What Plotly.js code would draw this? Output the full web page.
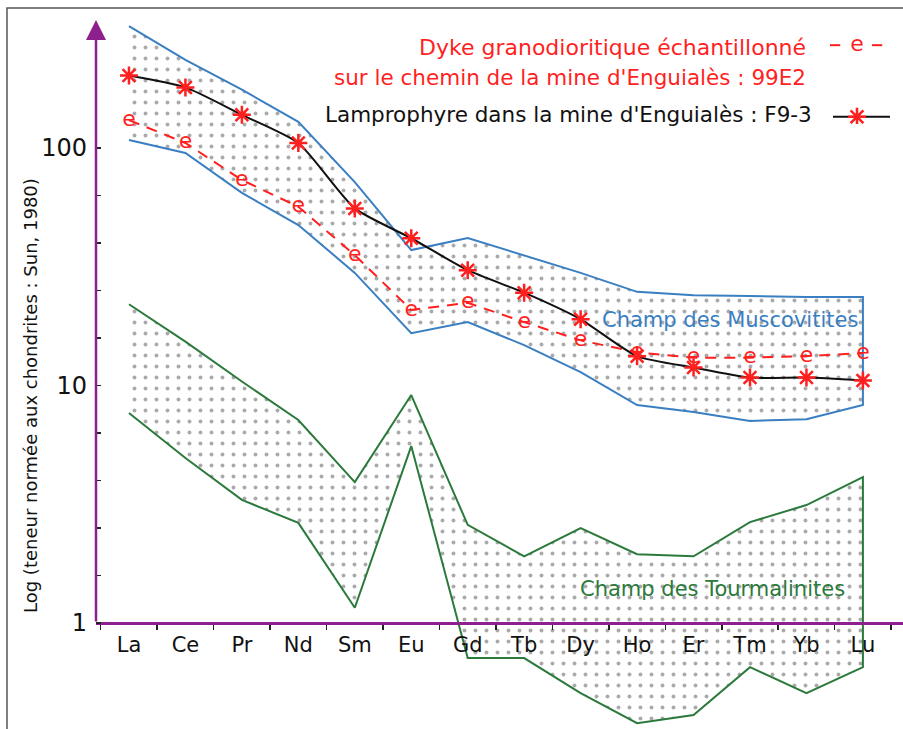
<!DOCTYPE html>
<html>
<head>
<meta charset="utf-8">
<script src="https://cdn.plot.ly/plotly-3.0.1.min.js"></script>
<style>html,body{margin:0;padding:0;background:#fff;}#chart{width:903px;height:729px;}</style>
</head>
<body>
<div id="chart"></div>
<script>
// Rare earth elements (x categories)
const elements = ['La','Ce','Pr','Nd','Sm','Eu','Gd','Tb','Dy','Ho','Er','Tm','Yb','Lu'];
// Samples (chondrite-normalised, Sun 1980)
const dyke99E2  = [131, 105, 73.3, 56.6, 35.4, 20.8, 22.3, 18.5, 15.5, 13.8, 13.1, 13.1, 13.3, 13.7];
const lamproF93 = [202, 180, 138, 105, 55.7, 41.7, 30.6, 24.6, 19.0, 13.3, 11.9, 10.8, 10.8, 10.5];
// Fields (upper and lower envelopes)
const muscoUpper = [326, 235, 176, 129, 71.9, 37.2, 41.8, 35.4, 29.8, 24.8, 24.0, 23.8, 23.6, 23.6];
const muscoLower = [108, 95.3, 64.7, 47.4, 29.8, 16.6, 18.5, 14.8, 11.4, 8.28, 7.73, 7.09, 7.22, 8.28];
const tourmUpper = [22.0, 15.3, 10.4, 7.16, 3.92, 9.12, 2.59, 1.91, 2.51, 1.95, 1.91, 2.66, 3.14, 4.12];
const tourmLower = [7.66, 4.95, 3.30, 2.64, 1.16, 5.56, 0.712, 0.712, 0.507, 0.379, 0.410, 0.652, 0.507, 0.652];
// Texts
const legendDyke1 = 'Dyke granodioritique échantillonné';
const legendDyke2 = "sur le chemin de la mine d'Enguialès : 99E2";
const legendLampro = "Lamprophyre dans la mine d'Enguialès : F9-3";
const yTitle = 'Log (teneur normée aux chondrites : Sun, 1980)';
const fieldMusco = 'Champ des Muscovitites';
const fieldTourm = 'Champ des Tourmalinites';
const yTickVals = [1,1.585,2.512,3.981,6.310,10,15.85,25.12,39.81,63.10,100];
const yTickText = ['1','','','','','10','','','','','100'];

const FONT = 'DejaVu Sans, sans-serif';
const PURPLE = '#8e1f8e';
const RED = '#ff1f1f';
const BLUE = '#3a7fc1';
const GREEN = '#2b7a3b';

const xRange = [-0.584, 13.71];
const yRange = [-0.446, 2.539];

function polygon(upper, lower) {
  return {
    x: elements.concat(elements.slice().reverse()),
    y: upper.concat(lower.slice().reverse())
  };
}
const pm = polygon(muscoUpper, muscoLower);
const pt = polygon(tourmUpper, tourmLower);
const pattern = {shape: '.', fgcolor: '#555', bgcolor: 'rgba(255,255,255,0)', size: 11, solidity: 0.1, fillmode: 'overlay'};
const starMarker = {symbol: 'asterisk-open', size: 15, color: RED, line: {color: RED, width: 2.5}};

const traces = [
  {x: pm.x, y: pm.y, type: 'scatter', mode: 'lines', fill: 'toself', fillcolor: 'rgba(255,255,255,0)',
   fillpattern: pattern, line: {color: BLUE, width: 2}, hoverinfo: 'skip', showlegend: false},
  {x: pt.x, y: pt.y, type: 'scatter', mode: 'lines', fill: 'toself', fillcolor: 'rgba(255,255,255,0)',
   fillpattern: pattern, line: {color: GREEN, width: 2}, hoverinfo: 'skip', showlegend: false},
  {x: elements, y: dyke99E2, type: 'scatter', mode: 'lines+text', text: elements.map(() => 'e'),
   textposition: 'middle center', textfont: {family: FONT, size: 22, color: RED},
   line: {color: RED, width: 2, dash: '11px,8px'}, showlegend: false, name: '99E2'},
  {x: elements, y: lamproF93, type: 'scatter', mode: 'lines+markers',
   line: {color: '#111', width: 2, shape: 'spline', smoothing: 0.6},
   marker: starMarker, showlegend: false, name: 'F9-3'},
  // legend samples (inset axes)
  {x: [0, 0.17, null, 0.7, 0.87], y: [1, 1, null, 1, 1], xaxis: 'x3', yaxis: 'y3', type: 'scatter', mode: 'lines',
   line: {color: RED, width: 2}, showlegend: false, hoverinfo: 'skip'},
  {x: [0.45], y: [1], xaxis: 'x3', yaxis: 'y3', type: 'scatter', mode: 'text', text: ['e'],
   textfont: {family: FONT, size: 22, color: RED}, showlegend: false, hoverinfo: 'skip'},
  {x: [0.05, 1.0], y: [0, 0], xaxis: 'x3', yaxis: 'y3', type: 'scatter', mode: 'lines',
   line: {color: '#111', width: 2}, showlegend: false, hoverinfo: 'skip'},
  {x: [0.45], y: [0], xaxis: 'x3', yaxis: 'y3', type: 'scatter', mode: 'markers',
   marker: starMarker, showlegend: false, hoverinfo: 'skip'}
];

const W = 903, H = 729, L = 96, T = 20;
const pw = W - L, ph = H - T;
const px2paperX = p => (p - L) / pw;
const px2paperY = p => (H - p) / ph;
const xAxisPos = (0 - yRange[0]) / (yRange[1] - yRange[0]);

const layout = {
  width: W, height: H,
  margin: {l: L, r: 0, t: T, b: 0, pad: 0},
  paper_bgcolor: '#fff', plot_bgcolor: 'rgba(0,0,0,0)',
  font: {family: FONT, color: '#111'},
  showlegend: false,
  xaxis: {
    type: 'category', categoryorder: 'array', categoryarray: elements,
    range: xRange, anchor: 'free', position: xAxisPos, automargin: false,
    showline: true, linecolor: PURPLE, linewidth: 2.5, showgrid: false, zeroline: false,
    ticks: 'outside', tickson: 'boundaries', ticklen: 5, tickwidth: 1.5, tickcolor: '#222',
    tickfont: {family: FONT, size: 21, color: '#111'}, ticklabelstandoff: 2
  },
  yaxis: {
    type: 'log', range: yRange, automargin: false,
    showline: false, showgrid: false, zeroline: false,
    tickvals: yTickVals, ticktext: yTickText,
    ticks: 'inside', ticklen: 5, tickwidth: 1.5, tickcolor: '#222',
    tickfont: {family: FONT, size: 24, color: '#111'}, ticklabelstandoff: 8
  },
  xaxis3: {domain: [px2paperX(830), px2paperX(890)], range: [0, 1], anchor: 'y3', visible: false, fixedrange: true},
  yaxis3: {domain: [px2paperY(124), px2paperY(38)], range: [-0.1, 1.1], anchor: 'x3', visible: false, fixedrange: true},
  shapes: [
    {type: 'rect', xref: 'paper', yref: 'paper', x0: px2paperX(7), x1: px2paperX(915), y0: px2paperY(745), y1: px2paperY(8),
     line: {color: '#555', width: 1.5}, fillcolor: 'rgba(0,0,0,0)', layer: 'below'}
  ],
  annotations: [
    // vertical axis with arrow
    {x: xRange[0], y: yRange[1], xref: 'x', yref: 'y', ax: xRange[0], ay: 0, axref: 'x', ayref: 'y',
     text: '', showarrow: true, arrowhead: 2, arrowsize: 1.6, arrowwidth: 2.5, arrowcolor: PURPLE, standoff: 0, startstandoff: 0},
    {x: px2paperX(30), y: px2paperY(396), xref: 'paper', yref: 'paper', text: yTitle, showarrow: false,
     textangle: -90, font: {family: FONT, size: 18, color: '#111'}, xanchor: 'center', yanchor: 'middle'},
    {x: px2paperX(808), y: px2paperY(47), xref: 'paper', yref: 'paper', text: legendDyke1, showarrow: false,
     xanchor: 'right', yanchor: 'middle', font: {family: FONT, size: 22, color: RED}},
    {x: px2paperX(808), y: px2paperY(77), xref: 'paper', yref: 'paper', text: legendDyke2, showarrow: false,
     xanchor: 'right', yanchor: 'middle', font: {family: FONT, size: 21.5, color: RED}},
    {x: px2paperX(814), y: px2paperY(114), xref: 'paper', yref: 'paper', text: legendLampro, showarrow: false,
     xanchor: 'right', yanchor: 'middle', font: {family: FONT, size: 21.5, color: '#111'}},
    {x: 10.64, y: 1.276, xref: 'x', yref: 'y', text: fieldMusco, showarrow: false,
     font: {family: FONT, size: 21, color: BLUE}},
    {x: 10.34, y: 0.143, xref: 'x', yref: 'y', text: fieldTourm, showarrow: false,
     font: {family: FONT, size: 21, color: GREEN}}
  ]
};

Plotly.newPlot('chart', traces, layout, {displayModeBar: false, staticPlot: true});
</script>
</body>
</html>
